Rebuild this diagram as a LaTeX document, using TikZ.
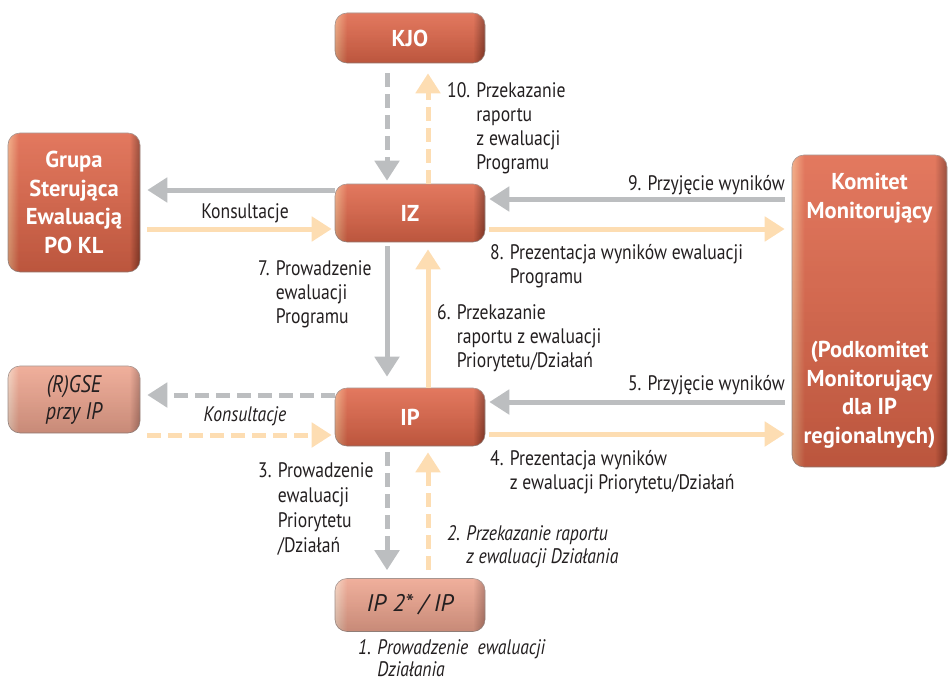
\documentclass[tikz,border=0pt]{standalone}
\usepackage{fontspec}
\setmainfont[FakeStretch=0.84, BoldFeatures={FakeStretch=0.98}]{PT Sans}
\newfontfamily\widesans{PT Sans}
\usetikzlibrary{arrows.meta,fadings}

% colours
\definecolor{boxL}{HTML}{F2A67C}
\definecolor{boxM}{HTML}{E0674A}
\definecolor{boxR}{HTML}{8E3B28}
\definecolor{pinkL}{HTML}{F7D2BE}
\definecolor{pinkM}{HTML}{EEA58F}
\definecolor{pinkR}{HTML}{B47868}
\definecolor{edgec}{HTML}{A08C86}
\definecolor{arrgray}{HTML}{BCBEC0}
\definecolor{arrorange}{HTML}{FDDDB2}
\definecolor{textdark}{HTML}{231F20}

% box shadings: light left edge, flat body, dark right edge
\pgfdeclarehorizontalshading{redbox}{100bp}{color(0bp)=(boxL); color(25bp)=(boxL); color(29bp)=(boxM); color(71bp)=(boxM); color(75bp)=(boxR); color(100bp)=(boxR)}
\pgfdeclarehorizontalshading{pinkbox}{100bp}{color(0bp)=(pinkL); color(25bp)=(pinkL); color(29bp)=(pinkM); color(71bp)=(pinkM); color(75bp)=(pinkR); color(100bp)=(pinkR)}
\tikzfading[name=bottomfade, top color=transparent!100, middle color=transparent!100, bottom color=transparent!0]
\tikzfading[name=topfade, top color=transparent!0, middle color=transparent!100, bottom color=transparent!100]

\tikzset{
  basebox/.style={rounded corners=12pt, draw=edgec, line width=0.6pt,
    align=center, inner sep=0pt,
    postaction={fill=black, fill opacity=0.16, path fading=bottomfade},
    postaction={fill=white, fill opacity=0.12, path fading=topfade}},
  redbx/.style={basebox, shading=redbox, text=white,
    font=\bfseries\fontsize{23}{28.5}\selectfont},
  pinkbx/.style={basebox, shading=pinkbox, text=textdark,
    font=\itshape\fontsize{24}{27}\selectfont},
  lbl/.style={inner sep=0pt, align=left, text=textdark,
    font=\fontsize{21}{24}\selectfont},
  ilbl/.style={lbl, font=\itshape\fontsize{21}{23}\selectfont},
  arr/.style={line width=5pt, -{Triangle[length=20pt,width=24pt]}},
  gA/.style={arr, draw=arrgray},
  oA/.style={arr, draw=arrorange},
  dsh/.style={dash pattern=on 14pt off 7pt},
}

\begin{document}
\begin{tikzpicture}[x=1pt,y=-1pt]
\useasboundingbox (0,0) rectangle (949,685);

% boxes
\node[redbx, minimum width=150pt, minimum height=50pt] (KJO) at (410,38) {KJO};
\node[redbx, minimum width=150pt, minimum height=58pt] (IZ) at (410,213) {IZ};
\node[redbx, minimum width=150pt, minimum height=58pt] (IP) at (410,417) {IP};
\node[pinkbx, font=\widesans\itshape\fontsize{24}{27}\selectfont,
  minimum width=150pt, minimum height=53pt] (IP2) at (410,605) {IP 2* / IP};
\node[redbx, minimum width=132pt, minimum height=139pt] (GS) at (74,202.5)
  {Grupa\\Sterująca\\Ewaluacją\\PO KL};
\node[pinkbx, minimum width=132pt, minimum height=67pt] (RGSE) at (74,399.5)
  {(R)GSE\\przy IP};
\node[redbx, minimum width=155pt, minimum height=312pt] (KM) at (869.5,311)
  {Komitet\\Monitorujący\\[111pt](Podkomitet\\Monitorujący\\dla IP\\regionalnych)};

% KJO <-> IZ
\draw[gA, dsh, shorten <=10pt, shorten >=3pt] ([xshift=-23pt]KJO.south) -- ([xshift=-23pt]IZ.north);
\draw[oA, dsh, shorten >=10pt] ([xshift=18pt]IZ.north) -- ([xshift=18pt]KJO.south);

% IZ <-> steering group
\draw[gA, shorten >=7pt] ([yshift=23pt]IZ.west) -- ([yshift=23pt]IZ.west -| GS.east);
\draw[oA, shorten <=7pt, shorten >=3pt] ([yshift=-16pt]IZ.west -| GS.east) -- ([yshift=-16pt]IZ.west);

% IZ <-> monitoring committee
\draw[gA, shorten <=7pt, shorten >=4pt] ([yshift=14pt]IZ.east -| KM.west) -- ([yshift=14pt]IZ.east);
\draw[oA, shorten <=4pt, shorten >=7pt] ([yshift=-16pt]IZ.east) -- ([yshift=-16pt]IZ.east -| KM.west);

% IZ <-> IP
\draw[gA, shorten <=4pt, shorten >=11pt] ([xshift=-23pt]IZ.south) -- ([xshift=-23pt]IP.north);
\draw[oA, shorten >=7pt] ([xshift=18pt]IP.north) -- ([xshift=18pt]IZ.south);

% IP <-> (R)GSE
\draw[gA, dsh, shorten >=7pt] ([yshift=22pt]IP.west) -- ([yshift=22pt]IP.west -| RGSE.east);
\draw[oA, dsh, shorten <=7pt, shorten >=3pt] ([yshift=-18pt]IP.west -| RGSE.east) -- ([yshift=-18pt]IP.west);

% IP <-> monitoring committee
\draw[gA, shorten <=7pt, shorten >=4pt] ([yshift=15pt]IP.east -| KM.west) -- ([yshift=15pt]IP.east);
\draw[oA, shorten <=4pt, shorten >=7pt] ([yshift=-17pt]IP.east) -- ([yshift=-17pt]IP.east -| KM.west);

% IP <-> IP 2*
\draw[gA, dsh, shorten <=6pt, shorten >=8pt] ([xshift=-23pt]IP.south) -- ([xshift=-23pt]IP2.north);
\draw[oA, dsh, shorten <=8pt, shorten >=6pt] ([xshift=18pt]IP2.north) -- ([xshift=18pt]IP.south);

% labels (base anchor of a multi-line label sits on its last line)
\node[lbl, anchor=base west] (t10) at (447,169)
  {10. Przekazanie\\\hphantom{10. }raportu\\\hphantom{10. }z ewaluacji\\\hphantom{10. }Programu};
\node[lbl, anchor=base east] (t9) at (785,190) {9. Przyjęcie wyników};
\node[lbl, anchor=base] (tk1) at (245,218) {Konsultacje};
\node[lbl, anchor=base west] (t8) at (490,283)
  {8. Prezentacja wyników ewaluacji\\\hphantom{8. }Programu};
\node[lbl, anchor=base west] (t7) at (258,323)
  {7. Prowadzenie\\\hphantom{7. }ewaluacji\\\hphantom{7. }Programu};
\node[lbl, anchor=base west] (t6) at (437,367)
  {6. Przekazanie\\\hphantom{6. }raportu z ewaluacji\\\hphantom{6. }Priorytetu/Działań};
\node[lbl, anchor=base east] (t5) at (785,390) {5. Przyjęcie wyników};
\node[ilbl, anchor=base] (tk2) at (245,421) {Konsultacje};
\node[lbl, anchor=base west] (t4) at (490,489)
  {4. Prezentacja wyników\\\hphantom{4. }z ewaluacji Priorytetu/Działań};
\node[lbl, font=\fontsize{21}{25}\selectfont, anchor=base west] (t3) at (258,552)
  {3. Prowadzenie\\\hphantom{3. }ewaluacji\\\hphantom{3. }Priorytetu\\\hphantom{3. }/Działań};
\node[ilbl, anchor=base west] (t2) at (447,563)
  {2. Przekazanie raportu\\\hphantom{2. }z ewaluacji Działania};
\node[ilbl, font=\itshape\fontsize{21}{21.5}\selectfont, anchor=base west] (t1) at (358,676)
  {1. Prowadzenie\ \ ewaluacji\\\hphantom{1. }Działania};
\end{tikzpicture}
\end{document}
